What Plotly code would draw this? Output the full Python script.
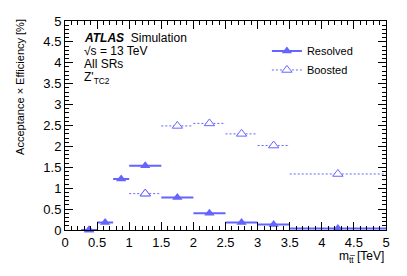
import plotly.graph_objects as go

# ---- data ----
res_lo = [0.25, 0.5, 0.75, 1.0, 1.5, 2.0, 2.5, 3.0, 3.5]
res_hi = [0.5, 0.75, 1.0, 1.5, 2.0, 2.5, 3.0, 3.5, 5.0]
res_val = [0.0, 0.18, 1.22, 1.54, 0.78, 0.40, 0.18, 0.13, 0.035]

boo_lo = [1.0, 1.5, 2.0, 2.5, 3.0, 3.5]
boo_hi = [1.5, 2.0, 2.5, 3.0, 3.5, 5.0]
boo_val = [0.87, 2.49, 2.55, 2.30, 2.02, 1.34]

x_ticks = [0, 0.5, 1, 1.5, 2, 2.5, 3, 3.5, 4, 4.5, 5]
x_ticklabels = ["0", "0.5", "1", "1.5", "2", "2.5", "3", "3.5", "4", "4.5", "5"]
y_ticks = [0, 0.5, 1, 1.5, 2, 2.5, 3, 3.5, 4, 4.5, 5]
y_ticklabels = ["0", "0.5", "1", "1.5", "2", "2.5", "3", "3.5", "4", "4.5", "5"]

BLUE = "rgb(100,100,255)"
CLEAR = "rgba(0,0,0,0)"
FONT = "Liberation Sans, Arial, sans-serif"


def binned(lo, hi, val, fill):
    """Build x/y arrays: marker point first (for legend), then lo-mid-hi segments."""
    xs, ys, fills, lines = [], [], [], []
    m0 = (lo[0] + hi[0]) / 2
    xs += [m0, None]
    ys += [val[0], None]
    fills += [fill, CLEAR]
    lines += [BLUE, CLEAR]
    for a, b, v in zip(lo, hi, val):
        m = (a + b) / 2
        xs += [a, m, b, None]
        ys += [v, v, v, None]
        fills += [CLEAR, fill, CLEAR, CLEAR]
        lines += [CLEAR, BLUE, CLEAR, CLEAR]
    return xs, ys, fills, lines


fig = go.Figure()

rx, ry, rf, rl = binned(res_lo, res_hi, res_val, BLUE)
fig.add_trace(go.Scatter(
    x=rx, y=ry, mode="lines+markers", name="Resolved",
    line=dict(color=BLUE, width=2),
    marker=dict(symbol="triangle-up", size=9, color=rf,
                line=dict(color=rl, width=0)),
    connectgaps=False, cliponaxis=False,
))

bx, by, bf, bl = binned(boo_lo, boo_hi, boo_val, "white")
fig.add_trace(go.Scatter(
    x=bx, y=by, mode="lines+markers", name="Boosted",
    line=dict(color=BLUE, width=1, dash="2px,2px"),
    marker=dict(symbol="triangle-up", size=9, color=bf,
                line=dict(color=bl, width=1)),
    connectgaps=False, cliponaxis=False,
))

axis_common = dict(
    showline=True, linecolor="black", linewidth=1, mirror="allticks",
    ticks="inside", ticklen=8, tickcolor="black", tickwidth=1,
    showgrid=False, zeroline=False, ticklabeloverflow="allow",
    tickfont=dict(family=FONT, size=13, color="black"),
    minor=dict(ticks="inside", ticklen=4, dtick=0.1, tickcolor="black", showgrid=False),
)

# page body has an 8px margin: size/margins compensate so the plot lands where the reference has it
fig.update_layout(
    width=391, height=260,
    margin=dict(l=57, r=13, t=6, b=38),
    paper_bgcolor="white", plot_bgcolor="white",
    font=dict(family=FONT, color="black"),
    xaxis=dict(range=[0, 5], tickvals=x_ticks, ticktext=x_ticklabels, **axis_common),
    yaxis=dict(range=[0, 5], tickvals=y_ticks, ticktext=y_ticklabels, **axis_common),
    legend=dict(x=0.629, y=0.926, xanchor="left", yanchor="top",
                traceorder="normal", bgcolor="rgba(0,0,0,0)",
                font=dict(family=FONT, size=11, color="black"),
                itemwidth=30),
    showlegend=True,
)

ann = [
    dict(text="<b><i>ATLAS</i></b>  Simulation", y=0.921),
    dict(text="\u221As = 13 TeV", y=0.856),
    dict(text="All SRs", y=0.792),
    dict(text="Z'<sub>TC2</sub>", y=0.725),
]
for a in ann:
    fig.add_annotation(x=0.053, y=a["y"], xref="paper", yref="paper",
                       text=a["text"], showarrow=False, xanchor="left", yanchor="middle",
                       font=dict(family=FONT, size=12, color="black"))

fig.add_annotation(x=1.0, y=-0.128, xref="paper", yref="paper",
                   text="m<sub>tt\u0305</sub> [TeV]", showarrow=False,
                   xanchor="right", yanchor="middle",
                   font=dict(family=FONT, size=12, color="black"))
fig.add_annotation(x=-0.14, y=0.685, xref="paper", yref="paper",
                   text="Acceptance \u00d7 Efficiency [%]", showarrow=False,
                   textangle=-90, xanchor="center", yanchor="middle",
                   font=dict(family=FONT, size=11, color="black"))

fig.write_html("out.html")
